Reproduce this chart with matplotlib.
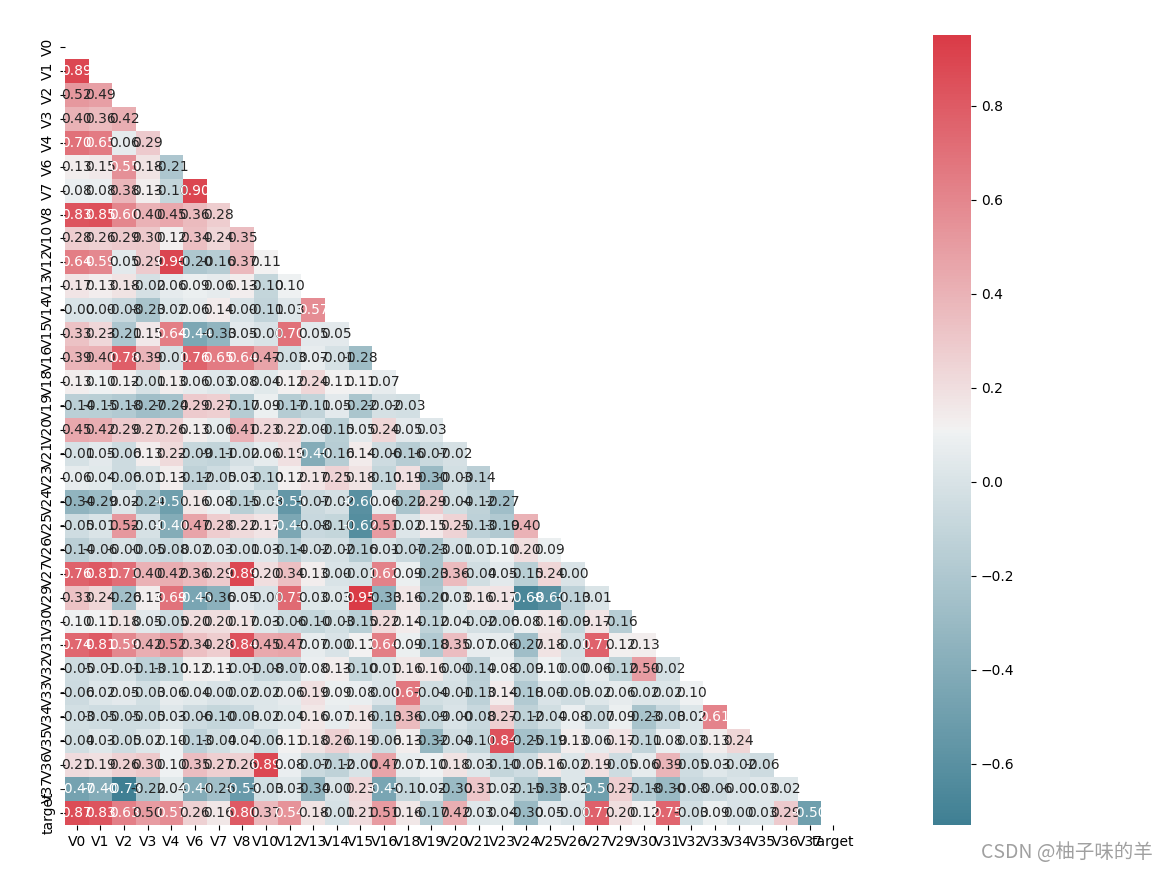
import numpy as np
import matplotlib
matplotlib.use("Agg")
import matplotlib.pyplot as plt
import seaborn as sns

labels = ["V0", "V1", "V2", "V3", "V4", "V6", "V7", "V8", "V10", "V12", "V13",
          "V14", "V15", "V16", "V18", "V19", "V20", "V21", "V23", "V24", "V25",
          "V26", "V27", "V29", "V30", "V31", "V32", "V33", "V34", "V35", "V36",
          "V37", "target"]

# lower triangle of the correlation matrix, row by row
r_V1 = [0.89]
r_V2 = [0.52, 0.49]
r_V3 = [0.40, 0.36, 0.42]
r_V4 = [0.70, 0.65, 0.06, 0.29]
r_V6 = [0.13, 0.15, 0.55, 0.18, -0.21]
r_V7 = [0.08, 0.08, 0.38, 0.13, -0.10, 0.90]
r_V8 = [0.83, 0.85, 0.60, 0.40, 0.45, 0.36, 0.28]
r_V10 = [0.28, 0.26, 0.29, 0.30, 0.12, 0.34, 0.24, 0.35]
r_V12 = [0.64, 0.59, 0.05, 0.29, 0.90, -0.20, -0.16, 0.37, 0.11]
r_V13 = [0.17, 0.13, 0.18, -0.02, 0.06, 0.09, 0.06, 0.13, -0.10, 0.10]
r_V14 = [-0.00, 0.00, -0.08, -0.23, 0.02, 0.06, 0.14, 0.00, -0.11, 0.03, 0.57]
r_V15 = [0.33, 0.23, -0.21, 0.15, 0.64, -0.44, -0.33, 0.05, -0.00, 0.70, 0.05, 0.05]
r_V16 = [0.39, 0.40, 0.78, 0.39, -0.01, 0.76, 0.65, 0.64, 0.47, -0.03, 0.07, -0.01, -0.28]
r_V18 = [0.13, 0.10, 0.12, -0.01, 0.13, 0.06, 0.03, 0.08, 0.04, 0.12, 0.24, 0.11, 0.11, 0.07]
r_V19 = [-0.14, -0.15, -0.18, -0.27, -0.24, 0.29, 0.27, -0.17, 0.09, -0.17, -0.11, 0.05,
         -0.22, -0.02, -0.03]
r_V20 = [0.45, 0.42, 0.29, 0.27, 0.26, 0.13, 0.06, 0.41, 0.23, 0.22, 0.00, -0.15, 0.05,
         0.24, 0.05, 0.03]
r_V21 = [-0.01, 0.05, -0.06, 0.13, 0.22, -0.09, -0.11, -0.02, 0.06, 0.19, -0.40, -0.16,
         0.14, -0.06, -0.16, -0.07, -0.02]
r_V23 = [0.06, 0.04, -0.06, 0.01, 0.13, -0.12, -0.05, 0.03, -0.10, 0.12, 0.17, 0.25,
         0.18, -0.10, 0.19, -0.30, -0.03, -0.14]
r_V24 = [-0.34, -0.29, 0.02, -0.24, -0.50, 0.16, 0.08, -0.15, -0.03, -0.55, -0.07, -0.02,
         -0.60, 0.06, -0.22, 0.29, -0.04, -0.12, -0.27]
r_V25 = [-0.05, 0.01, 0.52, -0.01, -0.40, 0.47, 0.28, 0.22, 0.17, -0.44, -0.08, -0.10,
         -0.62, 0.51, 0.02, 0.15, 0.25, -0.13, -0.19, 0.40]
r_V26 = [-0.14, -0.06, -0.00, -0.05, -0.08, 0.02, 0.03, -0.01, 0.03, -0.14, -0.02, -0.02,
         -0.16, 0.01, -0.07, -0.23, -0.01, 0.01, 0.10, 0.20, 0.09]
r_V27 = [0.76, 0.81, 0.71, 0.40, 0.42, 0.36, 0.29, 0.89, 0.20, 0.34, 0.13, 0.00, -0.01,
         0.62, 0.09, -0.23, 0.36, -0.04, 0.05, -0.15, 0.24, 0.00]
r_V29 = [0.33, 0.24, -0.26, 0.13, 0.69, -0.45, -0.36, 0.05, -0.00, 0.73, 0.03, 0.03, 0.95,
         -0.33, 0.16, -0.20, 0.03, 0.16, 0.17, -0.68, -0.60, -0.13, 0.01]
r_V30 = [0.10, 0.11, 0.18, 0.05, -0.05, 0.20, 0.20, 0.17, 0.03, -0.06, -0.10, -0.03,
         -0.15, 0.22, 0.14, -0.12, 0.04, -0.02, -0.06, 0.08, 0.16, -0.09, 0.17, -0.16]
r_V31 = [0.74, 0.81, 0.59, 0.42, 0.52, 0.34, 0.28, 0.84, 0.45, 0.47, 0.07, 0.00, 0.11,
         0.64, 0.09, -0.18, 0.35, 0.07, 0.06, -0.27, 0.18, -0.01, 0.77, 0.12, 0.13]
r_V32 = [-0.05, -0.01, -0.01, -0.13, -0.10, 0.12, 0.11, -0.01, -0.08, -0.07, 0.08, 0.13,
         -0.10, 0.01, 0.16, 0.16, 0.00, -0.14, 0.08, -0.09, 0.10, 0.00, 0.06, -0.12, 0.50,
         -0.02]
r_V33 = [-0.06, 0.02, 0.05, -0.03, 0.06, 0.04, 0.00, 0.02, 0.02, 0.06, 0.19, 0.09, 0.08,
         0.00, 0.67, -0.04, -0.01, -0.13, 0.14, -0.18, 0.00, -0.05, 0.02, 0.06, 0.02, 0.02,
         0.10]
r_V34 = [-0.03, -0.05, -0.05, -0.05, 0.03, -0.06, -0.10, -0.08, 0.02, 0.04, 0.16, 0.07,
         0.16, -0.13, 0.36, -0.09, -0.00, -0.08, 0.27, -0.12, -0.04, 0.08, -0.07, 0.09,
         -0.23, -0.08, 0.02, 0.61]
r_V35 = [-0.04, 0.03, -0.05, 0.02, 0.10, -0.13, -0.04, 0.04, -0.06, 0.11, 0.18, 0.26,
         0.19, -0.06, 0.13, -0.32, -0.04, -0.10, 0.84, -0.25, -0.19, 0.13, 0.06, 0.17,
         -0.11, 0.08, 0.03, 0.13, 0.24]
r_V36 = [0.21, 0.19, 0.26, 0.30, 0.10, 0.35, 0.27, 0.26, 0.89, 0.08, -0.07, -0.12, -0.00,
         0.47, 0.07, 0.10, 0.18, 0.03, -0.10, -0.05, 0.16, 0.02, 0.19, -0.05, 0.06, 0.39,
         -0.05, 0.03, -0.02, -0.06]
r_V37 = [-0.47, -0.40, -0.73, -0.22, 0.04, -0.40, -0.26, -0.53, -0.03, 0.03, -0.34, 0.00,
         0.23, -0.45, -0.10, 0.02, -0.30, 0.31, 0.02, -0.15, -0.33, 0.02, -0.50, 0.27,
         -0.18, -0.30, -0.08, -0.06, -0.00, 0.03, 0.02]
r_target = [0.87, 0.83, 0.63, 0.50, 0.57, 0.26, 0.16, 0.80, 0.37, 0.54, 0.18, -0.01, 0.21,
            0.51, 0.16, -0.17, 0.42, 0.03, 0.04, -0.30, 0.05, -0.00, 0.77, 0.20, 0.12,
            0.75, -0.03, 0.09, 0.00, 0.03, 0.29, -0.50]

rows = [[], r_V1, r_V2, r_V3, r_V4, r_V6, r_V7, r_V8, r_V10, r_V12, r_V13, r_V14, r_V15,
        r_V16, r_V18, r_V19, r_V20, r_V21, r_V23, r_V24, r_V25, r_V26, r_V27, r_V29,
        r_V30, r_V31, r_V32, r_V33, r_V34, r_V35, r_V36, r_V37, r_target]

n = len(labels)
corr = np.ones((n, n))
for i, r in enumerate(rows):
    for j, v in enumerate(r):
        corr[i, j] = v
        corr[j, i] = v

# hide diagonal and upper half
mask = np.triu(np.ones_like(corr, dtype=bool))

fig = plt.figure(figsize=(11.69, 8.72), dpi=100)
ax = fig.add_axes([65 / 1169, 47 / 872, 780 / 1169, 790 / 872])
cax = fig.add_axes([933 / 1169, 47 / 872, 38 / 1169, 790 / 872])

cmap = sns.diverging_palette(220, 10, as_cmap=True)
sns.heatmap(corr, mask=mask, cmap=cmap, annot=True, fmt=".2f",
            xticklabels=labels, yticklabels=labels, ax=ax, cbar_ax=cax)
ax.set_xticklabels(labels, rotation=0)
ax.set_yticklabels(labels, rotation=90, va="center")

fig.text(0.986, 0.022, "CSDN @柚子味的羊", ha="right", va="center", fontsize=14,
         color="#a0a0a0", family=["Noto Sans CJK SC", "DejaVu Sans"])

fig.savefig("out.png", dpi=100)
